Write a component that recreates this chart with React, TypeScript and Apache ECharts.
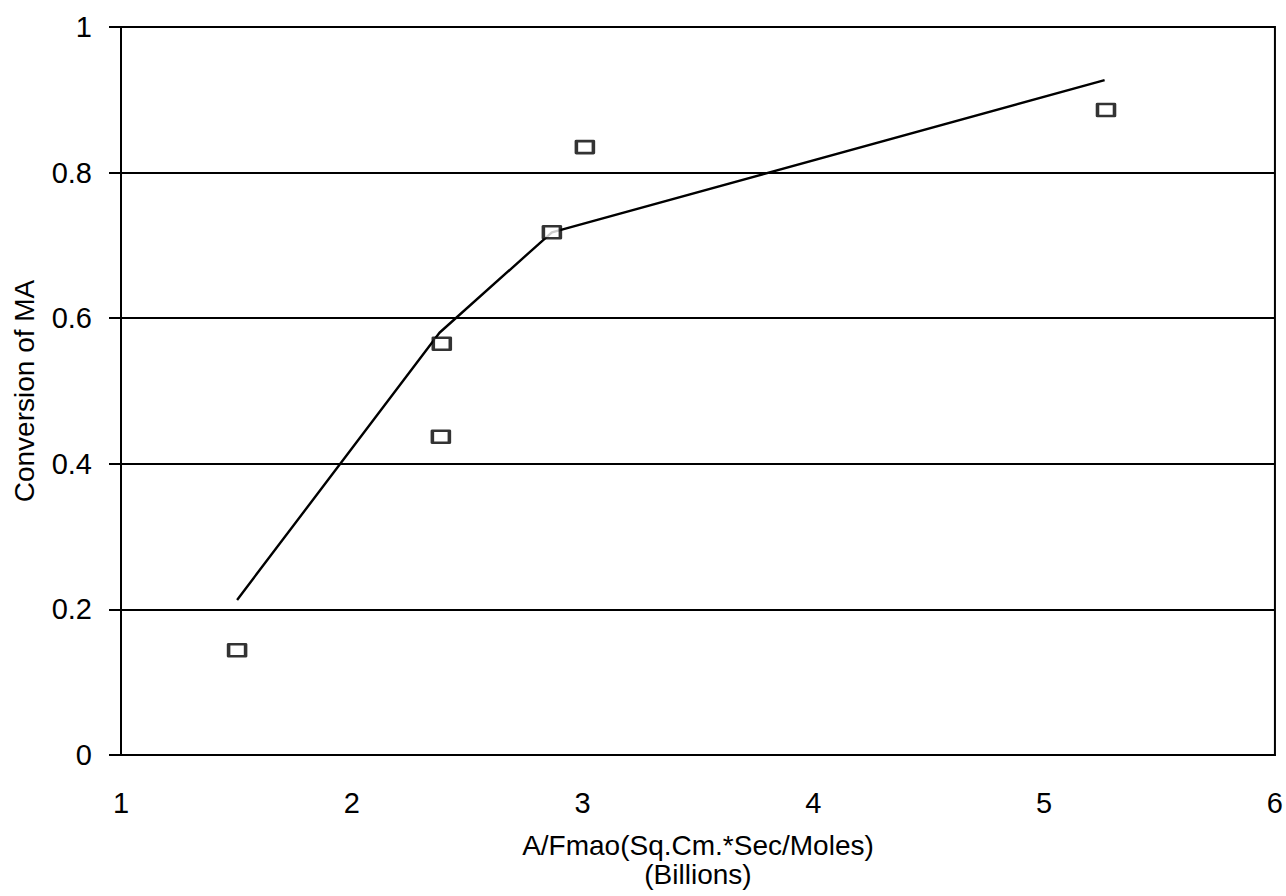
import React, { useEffect, useRef } from "react";
import * as echarts from "echarts";

const observedX = [1.503, 2.386, 2.39, 2.867, 3.01, 5.268];
const observedY = [0.144, 0.437, 0.565, 0.718, 0.835, 0.886];
const modelX = [1.503, 2.38, 2.867, 5.262];
const modelY = [0.213, 0.58, 0.718, 0.927];
const xTitle = "A/Fmao(Sq.Cm.*Sec/Moles)\n(Billions)";
const yTitle = "Conversion of MA";

export default function App() {
  const ref = useRef<HTMLDivElement>(null);
  useEffect(() => {
    document.body.style.margin = "0";
    const chart = echarts.init(ref.current!, null, { renderer: "svg" });
    const font = "Liberation Sans, Arial, sans-serif";
    chart.setOption({
      animation: false,
      backgroundColor: "#fff",
      grid: {
        left: 121,
        right: 9,
        top: 27,
        bottom: 141,
        show: true,
        borderColor: "#000",
        borderWidth: 2,
        containLabel: false,
      },
      xAxis: {
        type: "value",
        min: 1,
        max: 6,
        interval: 1,
        name: xTitle,
        nameLocation: "middle",
        nameGap: 76,
        nameTextStyle: { color: "#000", fontSize: 28, fontFamily: font, lineHeight: 29 },
        axisLine: { show: true, lineStyle: { color: "#000", width: 2 } },
        axisTick: { show: false },
        axisLabel: { color: "#000", fontSize: 29, fontFamily: font, margin: 33 },
        splitLine: { show: false },
      },
      yAxis: {
        type: "value",
        min: 0,
        max: 1,
        interval: 0.2,
        name: yTitle,
        nameLocation: "middle",
        nameGap: 83,
        nameTextStyle: { color: "#000", fontSize: 28, fontFamily: font },
        axisLine: { show: true, lineStyle: { color: "#000", width: 2 } },
        axisTick: { show: true, inside: false, length: 12, lineStyle: { color: "#000", width: 2 } },
        axisLabel: { color: "#000", fontSize: 29, fontFamily: font, margin: 29 },
        splitLine: { show: true, lineStyle: { color: "#000", width: 2 } },
      },
      series: [
        {
          type: "line",
          data: modelX.map((x, i) => [x, modelY[i]]),
          showSymbol: false,
          symbol: "none",
          lineStyle: { color: "#000", width: 2.4 },
          z: 2,
        },
        {
          type: "scatter",
          data: observedX.map((x, i) => [x, observedY[i]]),
          symbol: "rect",
          symbolSize: [17, 12],
          itemStyle: { color: "#fff", borderColor: "#000", borderWidth: 3, borderJoin: "round" },
          z: 3,
        },
      ],
    });
    return () => chart.dispose();
  }, []);
  return <div ref={ref} style={{ width: 1286, height: 896 }} />;
}
